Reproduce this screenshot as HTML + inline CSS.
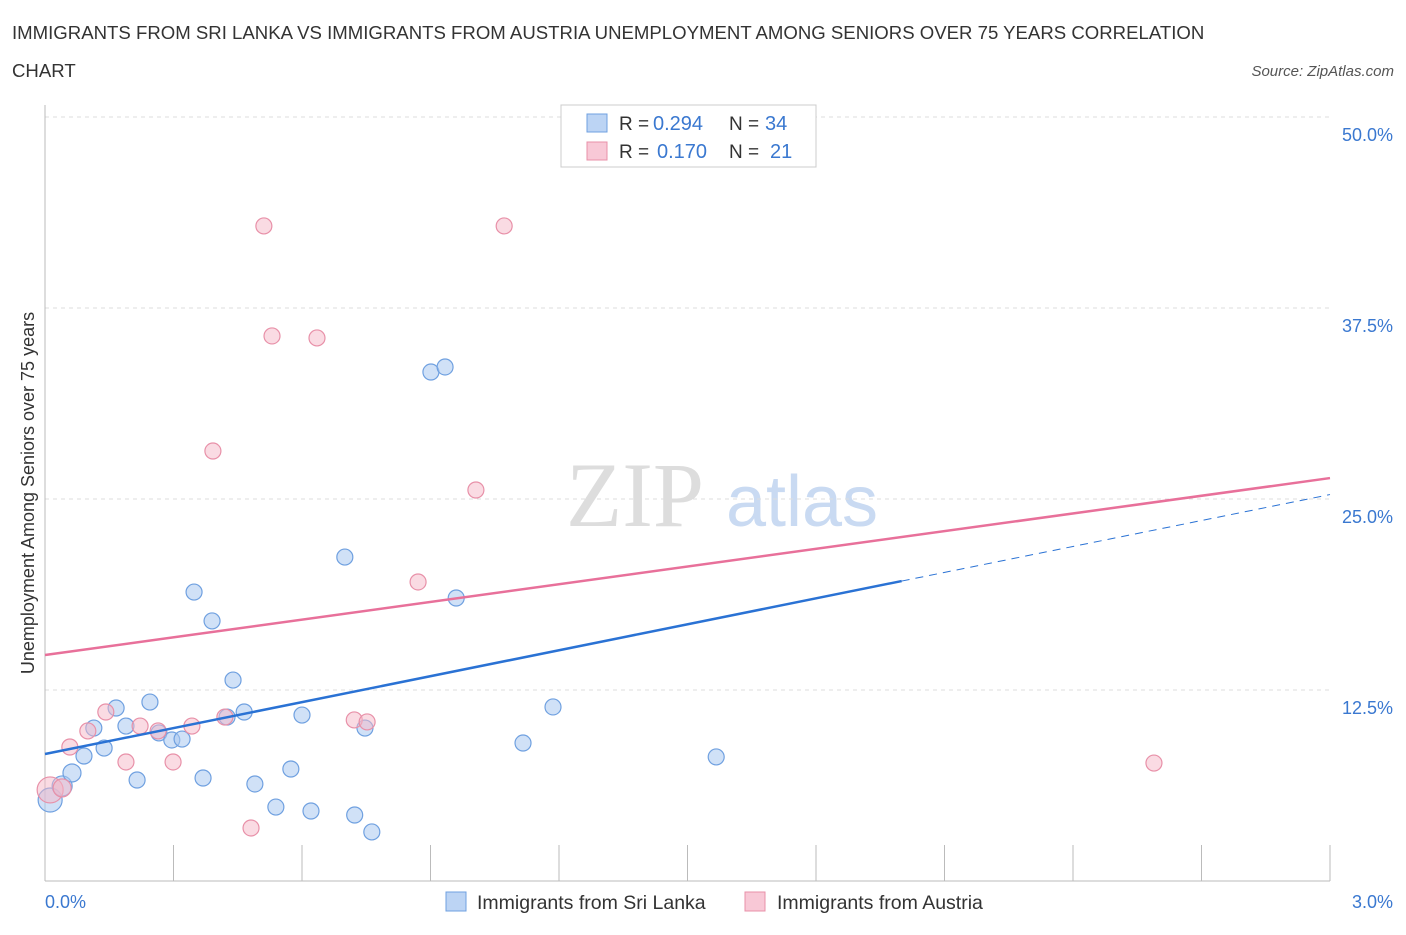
<!DOCTYPE html>
<html><head><meta charset="utf-8"><style>
body{margin:0;background:#fff;font-family:"Liberation Sans",sans-serif;}
</style></head><body>
<svg width="1406" height="930" xmlns="http://www.w3.org/2000/svg" font-family="Liberation Sans, sans-serif">
<g id="root"></g>
</svg>
<script>
const blueX=[0.012,0.040,0.063,0.091,0.114,0.138,0.166,0.189,0.215,0.245,0.266,0.296,0.320,0.348,0.369,0.390,0.425,0.439,0.465,0.490,0.539,0.574,0.600,0.621,0.700,0.723,0.747,0.763,0.901,0.934,0.960,1.116,1.186,1.567];
const blueY=[5.30,6.22,7.07,8.18,10.01,8.70,11.32,10.14,6.61,11.71,9.69,9.23,9.29,18.91,6.74,17.02,10.73,13.15,11.06,6.35,4.84,7.33,10.86,4.58,21.20,4.32,10.01,3.21,33.31,33.64,18.52,9.03,11.39,8.12];
const pinkX=[0.012,0.040,0.058,0.100,0.142,0.189,0.222,0.264,0.299,0.343,0.392,0.420,0.481,0.511,0.530,0.635,0.722,0.752,0.871,1.006,1.072,2.589];
const pinkY=[5.96,6.09,8.77,9.82,11.06,7.79,10.14,9.82,7.79,10.14,28.14,10.73,3.47,42.87,35.67,35.54,10.54,10.41,19.57,25.59,42.87,7.72];
const blueSize=[12,10,9,8,8,8,8,8,8,8,8,8,8,8,8,8,8,8,8,8,8,8,8,8,8,8,8,8,8,8,8,8,8,8];
const pinkSize=[13,9,8,8,8,8,8,8,8,8,8,8,8,8,8,8,8,8,8,8,8,8];
const blueTrend=[8.31,5.66]; // intercept, slope
const pinkTrend=[14.79,3.86];
const yTicks=[12.5,25.0,37.5,50.0];
const yTickLabels=["12.5%","25.0%","37.5%","50.0%"];
const xTicks=[0,0.3,0.6,0.9,1.2,1.5,1.8,2.1,2.4,2.7,3.0];

const NS="http://www.w3.org/2000/svg";
const root=document.getElementById('root');
const X=v=>45+v/3*1285;
const Y=v=>881-v/12.5*191;
function mk(tag,attrs,parent){const e=document.createElementNS(NS,tag);for(const k in attrs)e.setAttribute(k,attrs[k]);(parent||root).appendChild(e);return e;}

let t=mk('text',{x:12,y:39,'font-size':18.6,fill:'#333'});t.textContent="IMMIGRANTS FROM SRI LANKA VS IMMIGRANTS FROM AUSTRIA UNEMPLOYMENT AMONG SENIORS OVER 75 YEARS CORRELATION";

t=mk('text',{x:12,y:77,'font-size':18.6,fill:'#333'});t.textContent="CHART";

t=mk('text',{x:1394,y:76,'font-size':15,fill:'#555','font-style':'italic','text-anchor':'end'});t.textContent="Source: ZipAtlas.com";


t=mk('text',{x:635,y:526,'font-size':92,fill:'#ddd','font-family':'Liberation Serif, serif','text-anchor':'middle'});t.textContent="ZIP";

t=mk('text',{x:802,y:526,'font-size':72,fill:'#c9daf2','text-anchor':'middle'});t.textContent="atlas";


yTicks.forEach((v,i)=>{
 const l=mk('line',{x1:45,x2:1330,y1:Y(v),y2:Y(v),stroke:'#ddd','stroke-dasharray':'4,4'});
 
 const tx=mk('text',{x:1393,y:Y(v)+24,'font-size':18,fill:'#3a78d0','text-anchor':'end'});tx.textContent=yTickLabels[i];
 
});
let a=mk('line',{x1:45,x2:45,y1:105,y2:881,stroke:'#bbb'});
a=mk('line',{x1:45,x2:1330,y1:881,y2:881,stroke:'#bbb'});
xTicks.forEach(v=>{const l=mk('line',{x1:X(v),x2:X(v),y1:845,y2:881,stroke:'#bbb'});
 });
t=mk('text',{x:45,y:908,'font-size':18,fill:'#3a78d0'});t.textContent="0.0%";

t=mk('text',{x:1393,y:908,'font-size':18,fill:'#3a78d0','text-anchor':'end'});t.textContent="3.0%";

t=mk('text',{x:34,y:493,'font-size':18,fill:'#333','text-anchor':'middle',transform:'rotate(-90 34 493)'});t.textContent="Unemployment Among Seniors over 75 years";


blueX.forEach((x,i)=>{const c=mk('circle',{cx:X(x),cy:Y(blueY[i]),r:blueSize[i],fill:'#a9c8f0','fill-opacity':0.55,stroke:'#6fa0e0','stroke-width':1.2});
 });
pinkX.forEach((x,i)=>{const c=mk('circle',{cx:X(x),cy:Y(pinkY[i]),r:pinkSize[i],fill:'#f5b8c8','fill-opacity':0.5,stroke:'#e890a8','stroke-width':1.2});
 });

let tl=mk('line',{x1:X(0),y1:Y(pinkTrend[0]),x2:X(3),y2:Y(pinkTrend[0]+pinkTrend[1]*3),stroke:'#e8709a','stroke-width':2.5});

tl=mk('line',{x1:X(0),y1:Y(blueTrend[0]),x2:X(2),y2:Y(blueTrend[0]+blueTrend[1]*2),stroke:'#2a72d4','stroke-width':2.5});

tl=mk('line',{x1:X(2),y1:Y(blueTrend[0]+blueTrend[1]*2),x2:X(3),y2:Y(blueTrend[0]+blueTrend[1]*3),stroke:'#2a72d4','stroke-width':1,'stroke-dasharray':'8,6'});


const lg=mk('g',{});
mk('rect',{x:561,y:105,width:255,height:62,fill:'#fff',stroke:'#ccc'},lg);
mk('rect',{x:587,y:114,width:20,height:18,fill:'#bcd4f4',stroke:'#6fa0e0'},lg);
mk('rect',{x:587,y:142,width:20,height:18,fill:'#f8c8d6',stroke:'#e890a8'},lg);
[["0.294","34",130,653,765],["0.170","21",158,657,770]].forEach(r=>{
 let e=mk('text',{x:619,y:r[2],'font-size':19,fill:'#333'},lg);e.textContent="R = ";
 e=mk('text',{x:r[3],y:r[2],'font-size':20,fill:'#3a78d0'},lg);e.textContent=r[0];
 e=mk('text',{x:729,y:r[2],'font-size':19,fill:'#333'},lg);e.textContent="N = ";
 e=mk('text',{x:r[4],y:r[2],'font-size':20,fill:'#3a78d0'},lg);e.textContent=r[1];
});

const bl=mk('g',{});
mk('rect',{x:446,y:892,width:20,height:19,fill:'#bcd4f4',stroke:'#6fa0e0'},bl);
let e=mk('text',{x:477,y:909,'font-size':19.5,fill:'#333'},bl);e.textContent="Immigrants from Sri Lanka";
mk('rect',{x:745,y:892,width:20,height:19,fill:'#f8c8d6',stroke:'#e890a8'},bl);
e=mk('text',{x:777,y:909,'font-size':19.5,fill:'#333'},bl);e.textContent="Immigrants from Austria";
</script>
</body></html>
